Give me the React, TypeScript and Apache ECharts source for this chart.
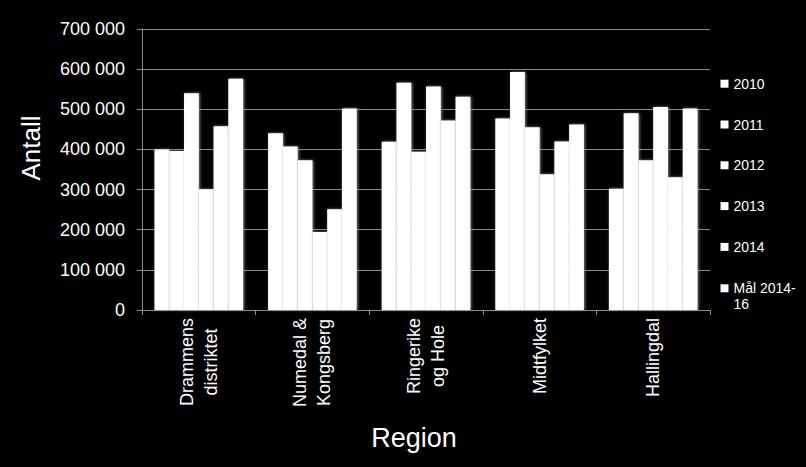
import React, { useEffect, useRef } from "react";
import * as echarts from "echarts";

const categories = [
  "Drammens\ndistriktet",
  "Numedal &\nKongsberg",
  "Ringerike\nog Hole",
  "Midtfylket",
  "Hallingdal",
];
const seriesNames = ["2010", "2011", "2012", "2013", "2014", "Mål 2014-16"];
const v2010 = [400000, 440000, 419000, 477000, 302000];
const v2011 = [396000, 407000, 566000, 593000, 490000];
const v2012 = [540000, 373000, 394000, 455000, 373000];
const v2013 = [301000, 194000, 557000, 338000, 506000];
const v2014 = [458000, 251000, 472000, 420000, 331000];
const vMaal = [576000, 502000, 531000, 462000, 502000];
const seriesValues = [v2010, v2011, v2012, v2013, v2014, vMaal];
const yTicks = { min: 0, max: 700000, interval: 100000 };

const FONT = "'Liberation Sans', Arial, Helvetica, sans-serif";

function fmt(v: number): string {
  if (v === 0) return "0";
  return String(v).replace(/\B(?=(\d{3})+(?!\d))/g, " ");
}

export default function App() {
  const ref = useRef<HTMLDivElement>(null);
  useEffect(() => {
    if (!ref.current) return;
    const chart = echarts.init(ref.current, undefined, { renderer: "svg" });
    const legendCommon = {
      orient: "vertical" as const,
      left: 715.5,
      itemWidth: 8,
      itemHeight: 8,
      icon: "rect",
      selectedMode: false,
      itemStyle: { shadowBlur: 0, shadowOffsetX: 0, shadowOffsetY: 0, borderWidth: 0 },
    };
    chart.setOption({
      animation: false,
      backgroundColor: "#000000",
      textStyle: { fontFamily: FONT },
      grid: { left: 142, right: 96, top: 29, bottom: 157, containLabel: false },
      legend: [
        {
          ...legendCommon,
          top: 70.7,
          itemGap: 24.8,
          data: seriesNames.slice(0, 5),
          textStyle: { color: "#ffffff", fontSize: 14, lineHeight: 16, fontFamily: FONT },
        },
        {
          ...legendCommon,
          top: 259.3,
          data: seriesNames.slice(5),
          formatter: () => " \nMål 2014-\n16",
          textStyle: {
            color: "#ffffff",
            fontSize: 14,
            lineHeight: 16,
            fontFamily: FONT,
          },
        },
      ],
      xAxis: {
        type: "category",
        data: categories,
        axisLine: { show: true, lineStyle: { color: "#8c8c8c", width: 1 } },
        axisTick: { show: true, length: 5, alignWithLabel: false, lineStyle: { color: "#8c8c8c" } },
        axisLabel: {
          rotate: 90,
          margin: 8,
          interval: 0,
          formatter: (v: string) => v.split("\n").map((s) => `{c|${s}}`).join("\n"),
          rich: {
            c: {
              align: "center",
              fontSize: 18,
              lineHeight: 24,
              color: "#ffffff",
              fontFamily: FONT,
            },
          },
        },
        splitLine: { show: false },
      },
      yAxis: {
        type: "value",
        min: yTicks.min,
        max: yTicks.max,
        interval: yTicks.interval,
        axisLine: { show: true, lineStyle: { color: "#8c8c8c", width: 1 } },
        axisTick: { show: true, inside: false, length: 5, lineStyle: { color: "#8c8c8c" } },
        axisLabel: {
          color: "#ffffff",
          fontSize: 18,
          margin: 17,
          fontFamily: FONT,
          formatter: (v: number) => fmt(v),
        },
        splitLine: { show: true, lineStyle: { color: "#8c8c8c", width: 1 } },
      },
      graphic: [
        {
          type: "text",
          x: 31,
          y: 148,
          rotation: Math.PI / 2,
          style: {
            text: "Antall",
            fill: "#ffffff",
            fontSize: 26,
            fontFamily: FONT,
            align: "center",
            verticalAlign: "middle",
          },
        },
        {
          type: "text",
          x: 414,
          y: 438,
          style: {
            text: "Region",
            fill: "#ffffff",
            fontSize: 27,
            fontFamily: FONT,
            align: "center",
            verticalAlign: "middle",
          },
        },
      ],
      series: seriesNames.map((name, i) => ({
        name,
        type: "bar",
        data: seriesValues[i],
        barGap: "0%",
        barCategoryGap: "22%",
        itemStyle: {
          color: "#ffffff",
          shadowColor: "rgba(150,150,150,0.9)",
          shadowBlur: 3,
          shadowOffsetX: 1,
          shadowOffsetY: 0,
        },
      })),
    });
    return () => chart.dispose();
  }, []);
  return (
    <div
      ref={ref}
      style={{ position: "fixed", left: 0, top: 0, width: 806, height: 467, background: "#000" }}
    />
  );
}
